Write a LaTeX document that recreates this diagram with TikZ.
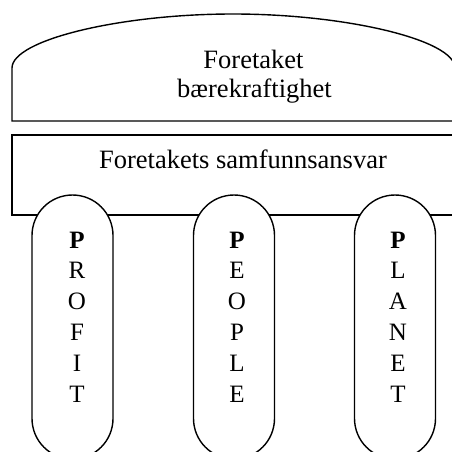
\documentclass[tikz,border=0pt]{standalone}
\usepackage{fontspec}
\setmainfont{Liberation Serif}
\begin{document}
\begin{tikzpicture}[x=1pt,y=-1pt,
  line width=1.4pt,
  bigtext/.style={font=\fontsize{26.5}{30}\selectfont, inner sep=0pt, anchor=base},
  lettertext/.style={font=\fontsize{25}{30}\selectfont, inner sep=0pt, anchor=base},
  pillar/.style={draw, fill=white, rounded corners=40.5pt, minimum width=81pt, minimum height=264pt, inner sep=0pt}
]
\useasboundingbox (0,0) rectangle (451,452);
% roof
\draw (12,121) -- (12,68) .. controls (12,40) and (120,14) .. (233,14)
      .. controls (346,14) and (455,40) .. (455,68) -- (455,121) -- cycle;
\node[bigtext] (t1) at (253.5,68) {Foretaket};
\node[bigtext] (t2) at (254.5,97) {bærekraftighet};
% responsibility box
\draw (12,135) rectangle (458,215);
\node[bigtext] (t3) at (243,168) {Foretakets samfunnsansvar};
% pillars
\node[pillar] (profit) at (72.5,327) {};
\node[pillar] (people) at (234,327) {};
\node[pillar] (planet) at (395,327) {};
\foreach \name/\x/\word in {a/77/{R,O,F,I,T}, b/237/{E,O,P,L,E}, c/398/{L,A,N,E,T}}{
  \node[lettertext] (\name0) at (\x,248) {\textbf{P}};
  \foreach \l [count=\i] in \word {
    \node[lettertext] (\name\i) at (\x,248+30.8*\i) {\l};
  }
}
\end{tikzpicture}
\end{document}
